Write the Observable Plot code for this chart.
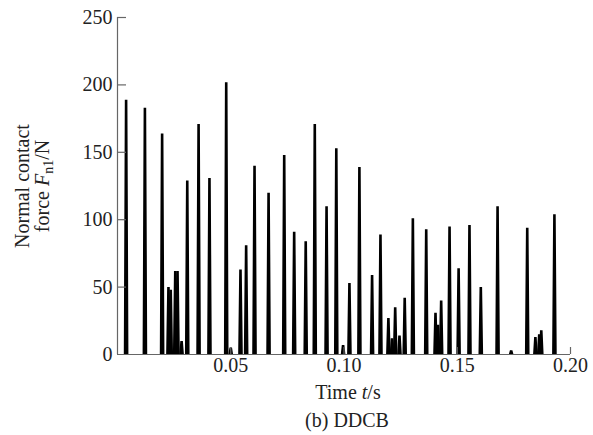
<!DOCTYPE html>
<html>
<head>
<meta charset="utf-8">
<script src="https://cdn.jsdelivr.net/npm/d3@7"></script>
<script src="https://cdn.jsdelivr.net/npm/@observablehq/plot@0.6"></script>
<style>
  html, body { margin: 0; padding: 0; background: #fff; overflow: hidden; }
</style>
</head>
<body>
<div id="chart"></div>
<script>
// Contact events: time of each impact (s) and its peak normal force (N)
const spikeTime = [
  0.0038, 0.0121, 0.0197, 0.0225, 0.0235, 0.0255, 0.0265, 0.0283, 0.0308, 0.0358,
  0.0406, 0.0480, 0.0500, 0.0543, 0.0568, 0.0605, 0.0667, 0.0736, 0.0780, 0.0831,
  0.0871, 0.0923, 0.0966, 0.0996, 0.1024, 0.1068, 0.1124, 0.1161, 0.1196, 0.1212,
  0.1226, 0.1245, 0.1268, 0.1304, 0.1363, 0.1404, 0.1415, 0.1429, 0.1466, 0.1506,
  0.1554, 0.1604, 0.1678, 0.1738, 0.1809, 0.1845, 0.1862, 0.1871, 0.1929
];
const spikeForce = [
  189, 183, 164, 50, 48, 62, 62, 10, 129, 171,
  131, 202, 5, 63, 81, 140, 120, 148, 91, 84,
  171, 110, 153, 7, 53, 139, 59, 89, 27, 12,
  35, 14, 42, 101, 93, 31, 22, 40, 95, 64,
  96, 50, 110, 3, 94, 13, 15, 18, 104
];
const xTicks = [0.05, 0.10, 0.15, 0.20];
const yTicks = [0, 50, 100, 150, 200, 250];

const halfWidth = 0.00045;
const spikes = spikeTime.flatMap((t, i) => [
  {t: t - halfWidth, f: 0, id: i},
  {t: t, f: spikeForce[i], id: i},
  {t: t + halfWidth, f: 0, id: i}
]);

const W = 593, H = 435;
const mL = 117, mR = 23, mT = 17, mB = 81;
const font = "'Liberation Serif', 'Times New Roman', serif";
const axisColor = "#666";

const pxX = 0.2 / (W - mL - mR);     // data units per pixel (x)
const pxY = 250 / (H - mT - mB);     // data units per pixel (y)

const chart = Plot.plot({
  width: W,
  height: H,
  marginLeft: mL,
  marginRight: mR,
  marginTop: mT,
  marginBottom: mB,
  style: {fontFamily: font, fontSize: "20px", color: "#222", background: "#fff"},
  x: {domain: [0, 0.2]},
  y: {domain: [0, 250]},
  marks: [
    Plot.areaY(spikes, {x: "t", y: "f", z: "id", fill: "#000"}),
    Plot.line(spikes, {x: "t", y: "f", z: "id", stroke: "#000", strokeWidth: 2.6, strokeLinejoin: "miter", strokeLinecap: "butt"}),
    Plot.ruleX([0], {y1: 0, y2: 250, stroke: axisColor, strokeWidth: 1.2}),
    Plot.ruleY([0], {x1: 0, x2: 0.2, stroke: axisColor, strokeWidth: 1.2}),
    Plot.ruleY(yTicks.filter(d => d > 0), {y: d => d, x1: 0, x2: 9 * pxX, stroke: axisColor, strokeWidth: 1.2}),
    Plot.ruleX(xTicks, {x: d => d, y1: 0, y2: 7 * pxY, stroke: axisColor, strokeWidth: 1.2}),
    Plot.axisY({ticks: yTicks, tickSize: 0, tickPadding: 5, label: null, fill: "#222"}),
    Plot.axisX({ticks: xTicks, tickSize: 0, tickPadding: 3, label: null, tickFormat: d3.format(".2f"), fill: "#222"})
  ]
});

const svg = d3.select(chart);
const addText = (x, y, rotate, parts) => {
  const t = svg.append("text")
    .attr("transform", `translate(${x},${y})` + (rotate ? ` rotate(${rotate})` : ""))
    .attr("text-anchor", "middle")
    .attr("font-family", font)
    .attr("font-size", 20)
    .attr("fill", "#222");
  for (const p of parts) {
    const s = t.append("tspan").text(p.text);
    if (p.italic) s.attr("font-style", "italic");
    if (p.sub) s.attr("baseline-shift", "-25%").attr("font-size", 14);
  }
  return t;
};
// y-axis title (two lines, rotated)
addText(29, 186, -90, [{text: "Normal contact"}]);
addText(49, 186, -90, [{text: "force "}, {text: "F", italic: true}, {text: "n1", sub: true}, {text: "/N"}]);
// x-axis title and caption
addText(348, 399, 0, [{text: "Time "}, {text: "t", italic: true}, {text: "/s"}]);
addText(347, 427, 0, [{text: "(b) DDCB"}]);

document.getElementById("chart").appendChild(chart);
</script>
</body>
</html>
